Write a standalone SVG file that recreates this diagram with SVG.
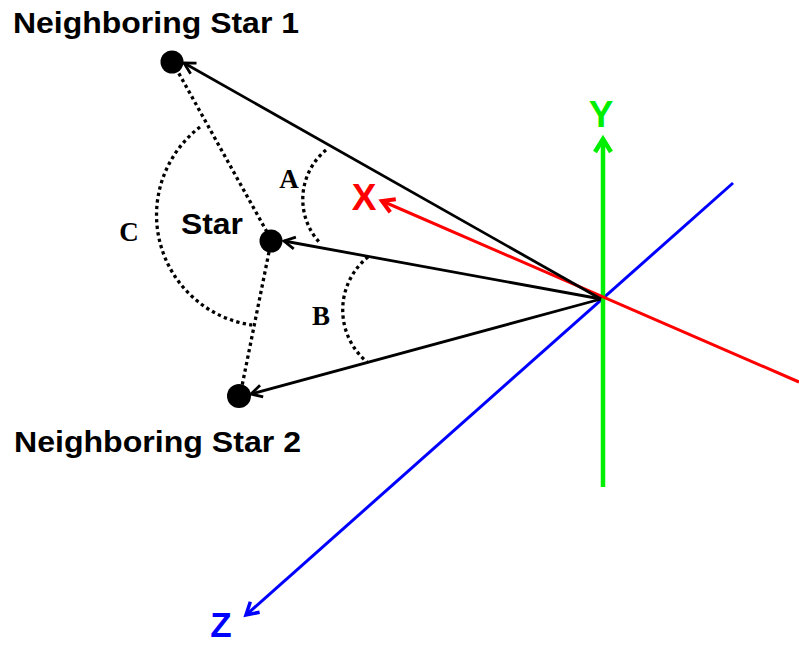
<svg xmlns="http://www.w3.org/2000/svg" width="799" height="645" viewBox="0 0 799 645">
<style>
.lbl{font-family:"Liberation Sans",Arial,sans-serif;font-weight:bold;font-size:30px;fill:#000}
.ang{font-family:"Liberation Serif","Times New Roman",serif;font-weight:bold;font-size:27px;fill:#000;text-anchor:middle}
.ax{font-family:"Liberation Sans",Arial,sans-serif;font-weight:bold;font-size:37px;text-anchor:middle}
.vec{stroke:#000;stroke-width:2.8;fill:none}
.dot{stroke:#000;stroke-width:3.3;stroke-dasharray:3.3 3.3;fill:none}
.star{fill:#000}
</style>
<defs>
<marker id="ab" markerUnits="userSpaceOnUse" markerWidth="30" markerHeight="30" viewBox="-15 -15 30 30" refX="0" refY="0" orient="auto">
<path d="M-11,-6 L0,0 L-11,6" fill="none" stroke="#000" stroke-width="2.8"/>
</marker>
<marker id="ar" markerUnits="userSpaceOnUse" markerWidth="30" markerHeight="30" viewBox="-15 -15 30 30" refX="0" refY="0" orient="auto">
<path d="M-12,-7 L0,0 L-12,7" fill="none" stroke="#ff0000" stroke-width="4"/>
</marker>
<marker id="ag" markerUnits="userSpaceOnUse" markerWidth="34" markerHeight="34" viewBox="-17 -17 34 34" refX="0" refY="0" orient="auto">
<path d="M-13,-8 L0,0 L-13,8" fill="none" stroke="#00ee00" stroke-width="4.5"/>
</marker>
<marker id="az" markerUnits="userSpaceOnUse" markerWidth="30" markerHeight="30" viewBox="-15 -15 30 30" refX="0" refY="0" orient="auto">
<path d="M-12,-7 L0,0 L-12,7" fill="none" stroke="#0000ff" stroke-width="3.5"/>
</marker>
</defs>

<g id="axes">
<line x1="733" y1="183" x2="246" y2="615" stroke="#0000ff" stroke-width="3" marker-end="url(#az)"/>
<line x1="603" y1="487" x2="603" y2="139" stroke="#00ee00" stroke-width="4.5" marker-end="url(#ag)"/>
<line x1="799" y1="382" x2="382" y2="201" stroke="#ff0000" stroke-width="3" marker-end="url(#ar)"/>
<text class="ax" x="601" y="127" fill="#00ee00">Y</text>
<text class="ax" x="364" y="210" fill="#ff0000">X</text>
<text class="ax" x="221" y="637" fill="#0000ff" style="font-size:35px">Z</text>
</g>

<g id="connectors">
<line class="vec" x1="601" y1="299" x2="184" y2="63" marker-end="url(#ab)"/>
<line class="vec" x1="601" y1="299" x2="284" y2="241" marker-end="url(#ab)"/>
<line class="vec" x1="601" y1="299" x2="251" y2="394" marker-end="url(#ab)"/>
<line class="dot" x1="267" y1="232" x2="177" y2="70"/>
<line class="dot" x1="269" y1="252" x2="242" y2="386"/>
<path class="dot" d="M326,150 A64,64 0 0 0 320,243"/>
<path class="dot" d="M368,257 A68,68 0 0 0 367,362"/>
<path class="dot" d="M200,127 A111,111 0 0 0 252,325"/>
</g>

<g id="star1">
<circle class="star" cx="172" cy="62" r="11.5"/>
<text class="lbl" x="13" y="33" textLength="286" lengthAdjust="spacingAndGlyphs">Neighboring Star 1</text>
</g>
<g id="star">
<circle class="star" cx="271" cy="241" r="11.5"/>
<text class="lbl" x="181" y="234" textLength="62" lengthAdjust="spacingAndGlyphs">Star</text>
</g>
<g id="star2">
<circle class="star" cx="239" cy="396" r="12"/>
<text class="lbl" x="14" y="452" textLength="287" lengthAdjust="spacingAndGlyphs">Neighboring Star 2</text>
</g>

<g id="angles">
<text class="ang" x="289" y="188">A</text>
<text class="ang" x="321" y="325">B</text>
<text class="ang" x="129" y="241">C</text>
</g>
</svg>
